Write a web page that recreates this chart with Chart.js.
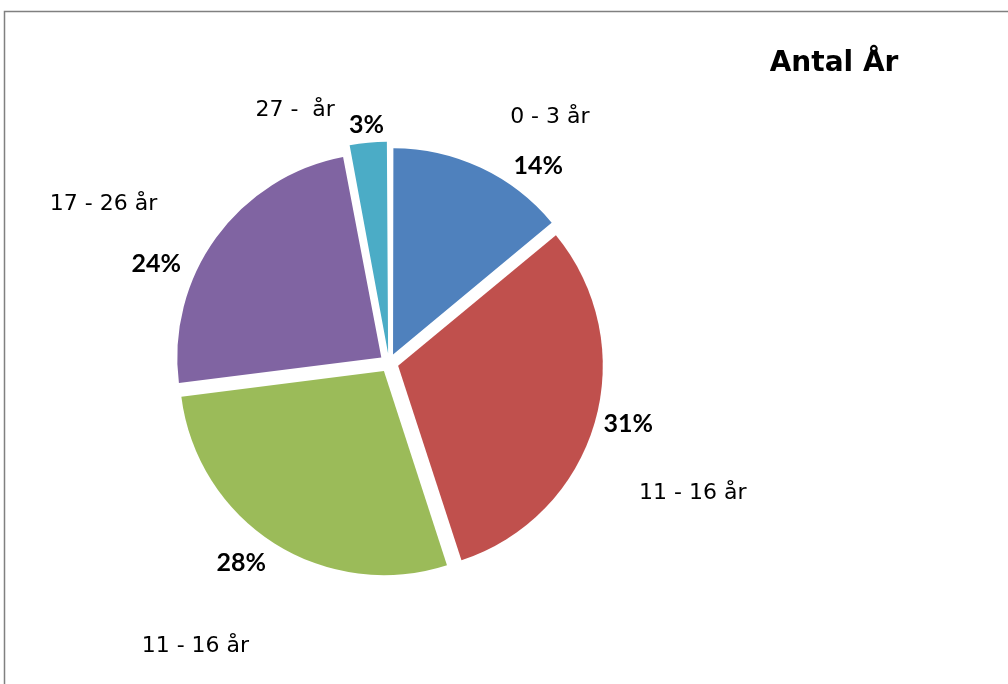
<!DOCTYPE html>
<html>
<head>
<meta charset="utf-8">
<script src="https://cdn.jsdelivr.net/npm/chart.js@4/dist/chart.umd.min.js"></script>
<style>
  body { margin: 0; background: #fff; }
</style>
</head>
<body>
<canvas id="pieChart" width="1008" height="684"></canvas>
<script>
// Data
const categories = ["0 - 3 år", "11 - 16 år", "11 - 16 år", "17 - 26 år", "27 -  år"];
const values = [14, 31, 28, 24, 3];
const sliceColors = ["#4F81BD", "#C0504D", "#9BBB59", "#8064A2", "#4BACC6"];
const chartTitle = "Antal År";

// label placement: degrees turned from slice middle, distance in radii
const pctTurn = [12, -2, 4, -13, 0];
const pctDist = [1.21, 1.21, 1.22, 1.24, 1.17];
const nameTurn = [8, 7, 2, -7, -15];
const nameDist = [1.44, 1.62, 1.68, 1.6, 1.32];

const total = values.reduce((a, b) => a + b, 0);

// Frame and labels drawn around the pie
const labelPlugin = {
    id: "pieLabels",
    beforeDraw(chart) {
        const ctx = chart.ctx;
        ctx.save();
        ctx.strokeStyle = "#808080";
        ctx.lineWidth = 1.5;
        ctx.beginPath();
        ctx.moveTo(4.5, 684);
        ctx.lineTo(4.5, 11.5);
        ctx.lineTo(1008, 11.5);
        ctx.stroke();
        ctx.restore();
    },
    afterDraw(chart) {
        const ctx = chart.ctx;
        const arcs = chart.getDatasetMeta(0).data;
        ctx.save();
        ctx.fillStyle = "#000";
        ctx.textAlign = "center";
        ctx.textBaseline = "middle";
        arcs.forEach((arc, i) => {
            const mid = (arc.startAngle + arc.endAngle) / 2;
            const r = arc.outerRadius;

            let a = mid + pctTurn[i] * Math.PI / 180;
            ctx.font = "bold 25px Lato";
            const pct = Math.round(values[i] / total * 100) + "%";
            ctx.fillText(pct, arc.x + Math.cos(a) * r * pctDist[i], arc.y + Math.sin(a) * r * pctDist[i]);

            a = mid + nameTurn[i] * Math.PI / 180;
            ctx.font = "22px 'DejaVu Sans'";
            ctx.fillText(categories[i], arc.x + Math.cos(a) * r * nameDist[i], arc.y + Math.sin(a) * r * nameDist[i]);
        });
        ctx.font = "bold 28px 'DejaVu Sans'";
        ctx.fillText(chartTitle, 834, 64);
        ctx.restore();
    }
};

const ctxPie = document.getElementById("pieChart").getContext("2d");

const pieChart = new Chart(ctxPie, {
    type: "pie",
    data: {
        labels: categories,
        datasets: [{
            data: values,
            backgroundColor: sliceColors,
            borderWidth: 0,
            offset: 38,
            hoverOffset: 0,
        }]
    },
    options: {
        responsive: false,
        animation: false,
        layout: { padding: { left: 166, right: 396, top: 140, bottom: 98 } },
        plugins: {
            legend: { display: false },
            tooltip: { enabled: false },
            title: { display: false },
        },
    },
    plugins: [labelPlugin],
});
</script>
</body>
</html>
